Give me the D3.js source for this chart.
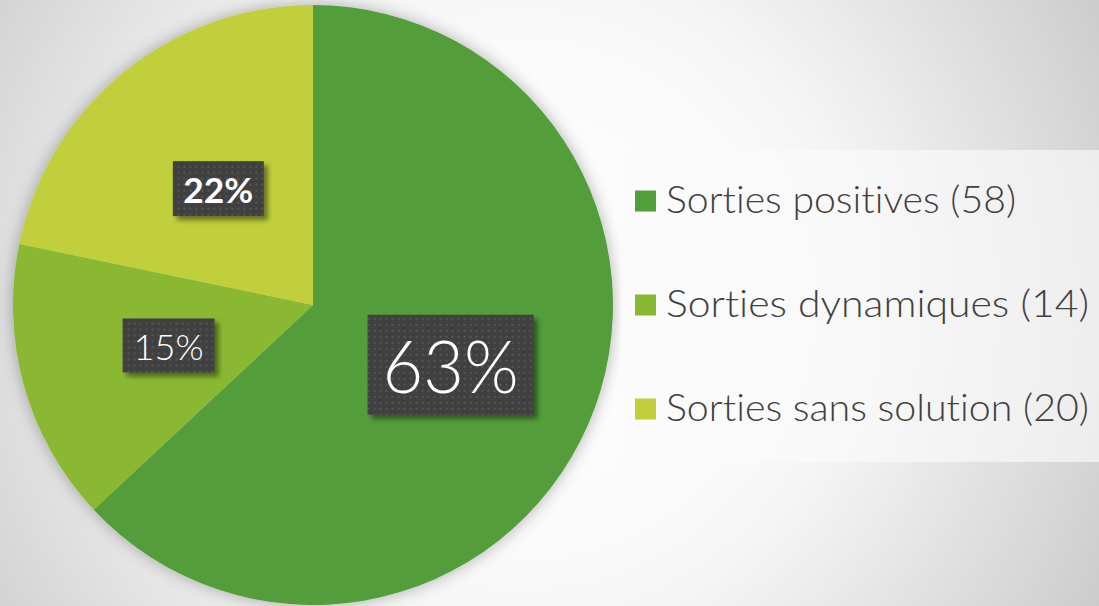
<!DOCTYPE html>
<html>
<head>
<meta charset="utf-8">
<script src="https://cdn.jsdelivr.net/npm/d3@7/dist/d3.min.js"></script>
<style>
  html, body { margin: 0; padding: 0; background: #ddd; }
  svg { display: block; }
  text { font-variant-ligatures: none; font-feature-settings: "liga" 0; }
</style>
</head>
<body>
<svg id="chart" width="1099" height="606"></svg>
<script>
// data
const categories = ["Sorties positives", "Sorties dynamiques", "Sorties sans solution"];
const values = [58, 14, 20];
const sliceColors = ["#529e3a", "#8ab833", "#c0cf3a"];

var svg = d3.select("#chart");
var W = 1099, H = 606;
var defs = svg.append("defs");

// background radial gradient
var bg = defs.append("radialGradient")
    .attr("id", "bg")
    .attr("gradientUnits", "userSpaceOnUse")
    .attr("cx", 520).attr("cy", 300).attr("r", 700);
[[0, "#ffffff"], [0.36, "#fafafa"], [0.48, "#f5f5f5"], [0.6, "#ebebeb"],
 [0.83, "#d6d6d6"], [0.96, "#c9c9c9"], [1, "#c4c4c4"]].forEach(function (s) {
    bg.append("stop").attr("offset", s[0]).attr("stop-color", s[1]);
});
svg.append("rect").attr("width", W).attr("height", H).attr("fill", "url(#bg)");

// soft halo under the pie
var pieShadow = defs.append("filter").attr("id", "pieShadow")
    .attr("x", "-20%").attr("y", "-20%").attr("width", "140%").attr("height", "140%");
pieShadow.append("feDropShadow")
    .attr("dx", 0).attr("dy", 0).attr("stdDeviation", 8)
    .attr("flood-color", "#000").attr("flood-opacity", 0.3);

// label box shadow
var boxShadow = defs.append("filter").attr("id", "boxShadow")
    .attr("x", "-20%").attr("y", "-20%").attr("width", "150%").attr("height", "150%");
boxShadow.append("feDropShadow")
    .attr("dx", 4).attr("dy", 4).attr("stdDeviation", 2.5)
    .attr("flood-color", "#000").attr("flood-opacity", 0.45);

// dotted texture on the label boxes
var pat = defs.append("pattern").attr("id", "dots")
    .attr("patternUnits", "userSpaceOnUse").attr("width", 6).attr("height", 6);
pat.append("rect").attr("width", 6).attr("height", 6).attr("fill", "#3f3f3f");
pat.append("rect").attr("x", 1).attr("y", 1).attr("width", 2).attr("height", 2).attr("fill", "#575757");

// pie
var cx = 313, cy = 305, radius = 300;
var total = d3.sum(values);
var color = d3.scaleOrdinal().domain(categories).range(sliceColors);

var pie = d3.pie().sort(null).value(function (d) { return d.value; });
var arc = d3.arc().innerRadius(0).outerRadius(radius);
var labelArc = d3.arc().innerRadius(radius / 2).outerRadius(radius / 2);

var rows = categories.map(function (c, i) { return { name: c, value: values[i] }; });
var arcs = pie(rows);

var gPie = svg.append("g").attr("transform", "translate(" + cx + "," + cy + ")");
gPie.append("g").attr("filter", "url(#pieShadow)")
    .selectAll("path").data(arcs).enter().append("path")
    .attr("d", arc)
    .attr("fill", function (d) { return color(d.data.name); });

// percentage labels
var labelStyle = [
    { w: 166, h: 100, size: 73, weight: 300, len: 136 },
    { w: 92, h: 54, size: 35, weight: 300, len: 70 },
    { w: 91, h: 55, size: 35, weight: 700, len: 70 }
];
var labels = gPie.selectAll("g.lbl").data(arcs).enter().append("g")
    .attr("class", "lbl")
    .attr("transform", function (d) {
        var c = labelArc.centroid(d);
        return "translate(" + c[0] + "," + c[1] + ")";
    });
labels.append("rect")
    .attr("x", function (d, i) { return -labelStyle[i].w / 2; })
    .attr("y", function (d, i) { return -labelStyle[i].h / 2; })
    .attr("width", function (d, i) { return labelStyle[i].w; })
    .attr("height", function (d, i) { return labelStyle[i].h; })
    .attr("fill", "url(#dots)")
    .attr("filter", "url(#boxShadow)");
labels.append("text")
    .attr("text-anchor", "middle")
    .attr("x", 0)
    .attr("y", function (d, i) { return 2 + labelStyle[i].size * 0.36; })
    .attr("font-family", "Lato, 'DejaVu Sans', sans-serif")
    .attr("font-size", function (d, i) { return labelStyle[i].size; })
    .attr("font-weight", function (d, i) { return labelStyle[i].weight; })
    .attr("textLength", function (d, i) { return labelStyle[i].len; })
    .attr("lengthAdjust", "spacingAndGlyphs")
    .attr("fill", "#fff")
    .text(function (d) { return Math.round(d.data.value / total * 100) + "%"; });

// legend
var legend = svg.append("g").attr("transform", "translate(620,150)");
legend.append("rect").attr("width", 490).attr("height", 312)
    .attr("fill", "#fafafa").attr("fill-opacity", 0.65);

var legendY = d3.scalePoint().domain(categories).range([51, 259]);
var legendLen = [350, 423, 423];
var item = legend.selectAll("g.item").data(rows).enter().append("g")
    .attr("class", "item")
    .attr("transform", function (d) { return "translate(0," + legendY(d.name) + ")"; });
item.append("rect")
    .attr("x", 15).attr("y", -10.5).attr("width", 21).attr("height", 21)
    .attr("fill", function (d) { return color(d.name); });
item.append("text")
    .attr("x", 46).attr("y", 12)
    .attr("font-family", "Lato, 'DejaVu Sans', sans-serif")
    .attr("font-size", 38)
    .attr("font-weight", 300)
    .attr("fill", "#404040")
    .attr("textLength", function (d, i) { return legendLen[i]; })
    .attr("lengthAdjust", "spacingAndGlyphs")
    .text(function (d) { return d.name + " (" + d.value + ")"; });
</script>
</body>
</html>
